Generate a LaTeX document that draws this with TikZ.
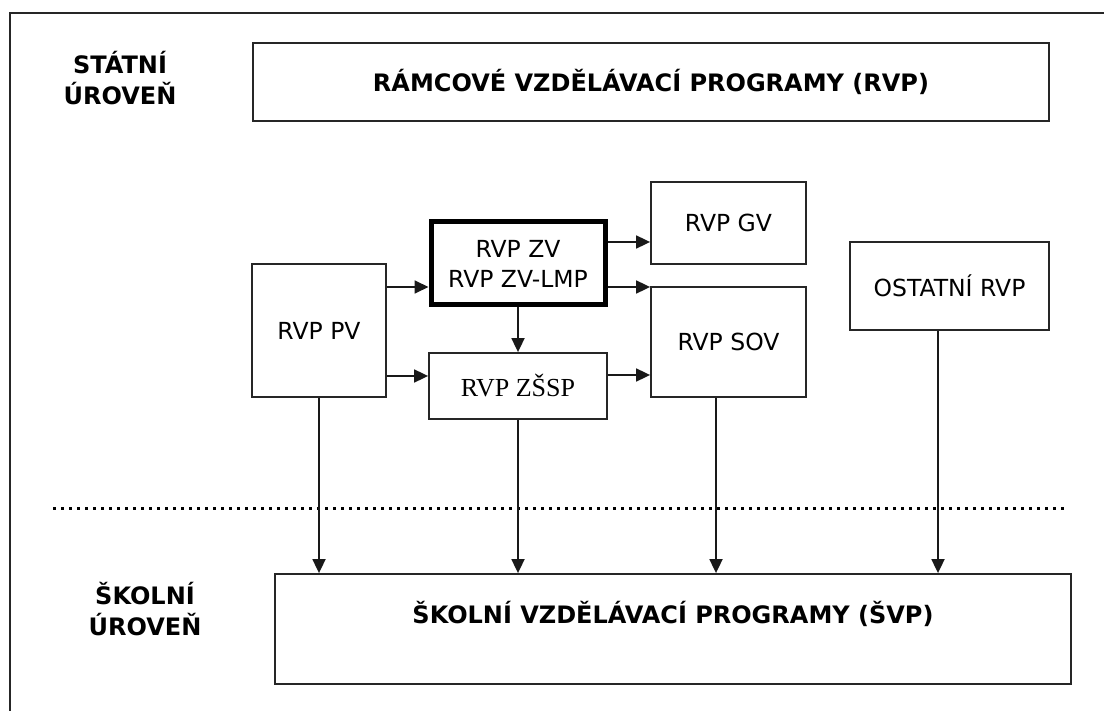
\documentclass[tikz,border=0pt]{standalone}
\usepackage{fontspec}
\setmainfont{DejaVu Sans}
\newfontfamily\timesfont{Liberation Serif}
\usetikzlibrary{arrows.meta}

\begin{document}
\begin{tikzpicture}[x=1pt,y=-1pt,
  box/.style={draw=black!85,line width=1.8pt,inner sep=0pt,align=center,
    font=\fontsize{23.5}{30}\selectfont},
  headbox/.style={box,font=\fontsize{24}{30}\selectfont\bfseries},
  level/.style={align=center,font=\fontsize{24}{31}\selectfont\bfseries},
  arr/.style={line width=1.8pt,draw=black!90,-{Triangle[length=14pt,width=13pt]}}]
  \useasboundingbox (0,0) rectangle (1104,711);
  % frame and level divider
  \draw[line width=2pt,black!85] (10,711) -- (10,13) -- (1104,13);
  \draw[line width=3pt,dash pattern=on 3pt off 5pt] (53,508) -- (1068,508);
  % levels
  \node[level] (statni) at (120,78) {STÁTNÍ\\ÚROVEŇ};
  \node[level] (skolni) at (145,609) {ŠKOLNÍ\\ÚROVEŇ};
  % programmes
  \node[headbox,minimum width=796pt,minimum height=78pt] (rvp) at (651,82) {RÁMCOVÉ VZDĚLÁVACÍ PROGRAMY (RVP)};
  \node[box,minimum width=134pt,minimum height=133pt] (pv) at (319,330.5) {RVP PV};
  \node[box,line width=5pt,draw=black,minimum width=174pt,minimum height=83pt] (zv) at (518,263.5) {RVP ZV\\RVP ZV-LMP};
  \node[box,minimum width=155pt,minimum height=82pt] (gv) at (728.5,223) {RVP GV};
  \node[box,minimum width=155pt,minimum height=110pt] (sov) at (728.5,342) {RVP SOV};
  \node[box,minimum width=178pt,minimum height=66pt,font=\timesfont\fontsize{26}{30}\selectfont] (zssp) at (518,386) {RVP ZŠSP};
  \node[box,minimum width=199pt,minimum height=88pt] (ost) at (949.5,286) {OSTATNÍ RVP};
  \node[headbox,minimum width=796pt,minimum height=110pt] (svp) at (673,629) {ŠKOLNÍ VZDĚLÁVACÍ PROGRAMY (ŠVP)\\[4pt]};
  % connections
  \draw[arr] (pv.east |- 0,287) -- (zv.west |- 0,287);
  \draw[arr] (pv.east |- 0,376) -- (zssp.west |- 0,376);
  \draw[arr] (zv.east |- 0,242) -- (gv.west |- 0,242);
  \draw[arr] (zv.east |- 0,287) -- (sov.west |- 0,287);
  \draw[arr] (zv.south) -- (zssp.north);
  \draw[arr] (zssp.east |- 0,375) -- (sov.west |- 0,375);
  \draw[arr] (pv.south) -- (svp.north -| pv.south);
  \draw[arr] (zssp.south) -- (svp.north -| zssp.south);
  \draw[arr] (sov.south -| 716,0) -- (svp.north -| 716,0);
  \draw[arr] (ost.south -| 938,0) -- (svp.north -| 938,0);
\end{tikzpicture}
\end{document}
